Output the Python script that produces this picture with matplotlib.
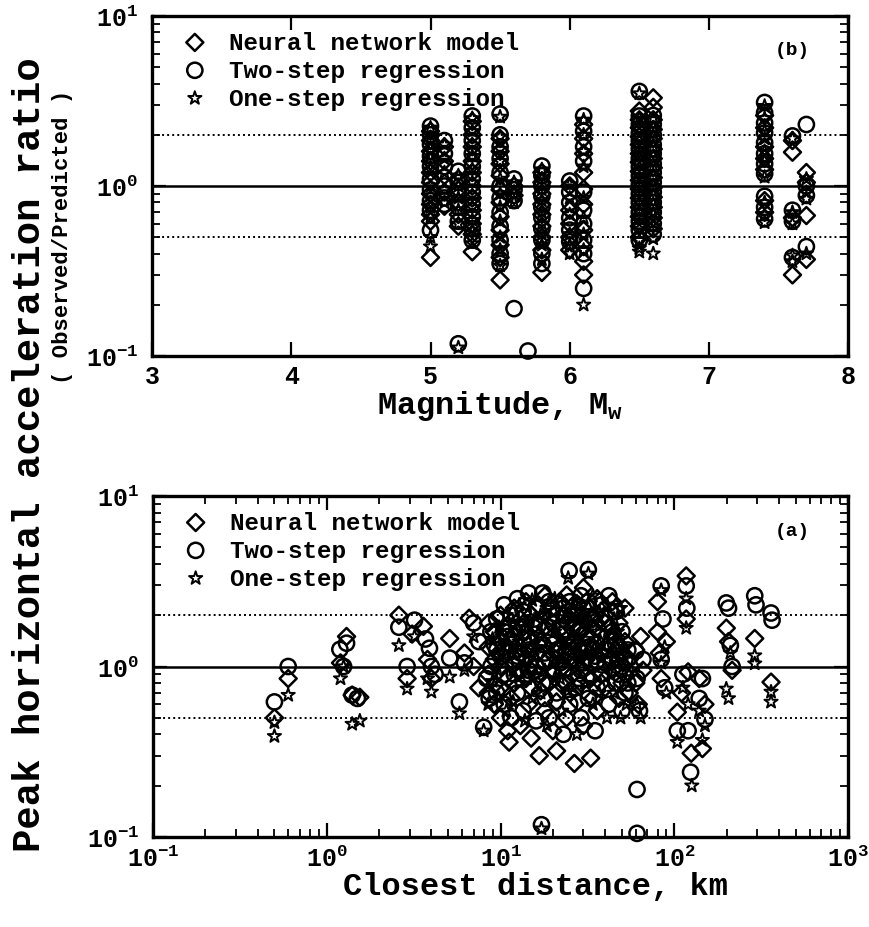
import numpy as np
import matplotlib
matplotlib.use("Agg")
import matplotlib.pyplot as plt
from matplotlib.ticker import LogLocator, NullFormatter, FixedLocator

# ============================
# FONT SETUP
# ============================
plt.rcParams["font.family"] = ["Liberation Mono", "DejaVu Sans"]
plt.rcParams["font.weight"] = "bold"
plt.rcParams["axes.labelweight"] = "bold"
plt.rcParams["mathtext.fontset"] = "custom"
plt.rcParams["mathtext.rm"] = "Liberation Mono:bold"
plt.rcParams["mathtext.it"] = "Liberation Mono:bold"
plt.rcParams["mathtext.bf"] = "Liberation Mono:bold"

# ============================
# DATA: ratio vs magnitude (panel b)
# ============================
nn_mw = [
    (5.0, [2.1, 1.85, 1.6, 1.4, 1.2, 1.05, 0.9, 0.78, 0.68, 0.62, 0.38]),
    (5.1, [1.7, 1.4, 1.15, 0.92, 0.76]),
    (5.2, [1.1, 0.95, 0.8, 0.68, 0.58]),
    (5.3, [2.4, 2.0, 1.7, 1.4, 1.2, 1.0, 0.85, 0.72, 0.6, 0.52, 0.41]),
    (5.5, [1.9, 1.6, 1.35, 1.15, 0.95, 0.8, 0.66, 0.55, 0.45, 0.38, 0.28]),
    (5.6, [1.0, 0.88]),
    (5.8, [1.2, 1.05, 0.9, 0.78, 0.68, 0.58, 0.5, 0.42, 0.31]),
    (6.0, [1.0, 0.72, 0.6, 0.5, 0.42]),
    (6.1, [2.3, 1.9, 1.55, 1.2, 0.96, 0.78, 0.55, 0.44, 0.36, 0.30]),
    (6.5, [2.76, 2.45, 2.2, 1.95, 1.75, 1.55, 1.38, 1.22, 1.08, 0.96, 0.85, 0.75, 0.66, 0.58, 0.5]),
    (6.6, [3.3, 2.9, 2.45, 2.15, 1.9, 1.65, 1.45, 1.28, 1.12, 0.98, 0.86, 0.75, 0.65, 0.56]),
    (7.4, [2.6, 2.2, 1.7, 1.45, 1.25, 0.82, 0.7]),
    (7.6, [1.85, 1.58, 0.65, 0.3]),
    (7.7, [1.2, 1.05, 0.67, 0.37]),
]
two_mw = [
    (5.0, [2.25, 2.0, 1.75, 1.5, 1.3, 1.1, 0.95, 0.82, 0.72, 0.55]),
    (5.1, [1.85, 1.55, 1.3, 1.0, 0.85, 0.78]),
    (5.2, [1.22, 1.05, 0.9, 0.75, 0.62, 0.118]),
    (5.3, [2.58, 2.2, 1.85, 1.55, 1.3, 1.1, 0.92, 0.78, 0.66, 0.56, 0.48]),
    (5.5, [2.65, 2.0, 1.7, 1.45, 1.2, 1.0, 0.85, 0.7, 0.58, 0.48, 0.4, 0.35]),
    (5.6, [1.1, 0.95, 0.82, 0.19]),
    (5.7, [0.107]),
    (5.8, [1.31, 1.15, 1.0, 0.87, 0.75, 0.65, 0.56, 0.48, 0.4, 0.35]),
    (6.0, [1.07, 0.92, 0.8, 0.65, 0.55, 0.47]),
    (6.1, [2.58, 2.1, 1.7, 1.4, 0.92, 0.72, 0.6, 0.48, 0.4, 0.25]),
    (6.5, [3.6, 2.58, 2.3, 2.05, 1.85, 1.65, 1.45, 1.3, 1.15, 1.02, 0.9, 0.8, 0.7, 0.62, 0.55, 0.48]),
    (6.6, [2.6, 2.3, 2.0, 1.75, 1.55, 1.35, 1.2, 1.05, 0.92, 0.8, 0.7, 0.6, 0.52]),
    (7.4, [3.1, 2.7, 2.35, 2.05, 1.8, 1.55, 1.35, 1.18, 0.87, 0.75, 0.64]),
    (7.6, [1.97, 0.72, 0.62, 0.38]),
    (7.7, [2.3, 1.0, 0.88, 0.44]),
]
one_mw = [
    (5.0, [2.2, 1.9, 1.65, 1.45, 1.25, 1.0, 0.88, 0.75, 0.66, 0.5, 0.44]),
    (5.1, [1.75, 1.45, 1.2, 0.95, 0.8]),
    (5.2, [1.15, 1.0, 0.85, 0.72, 0.6, 0.112]),
    (5.3, [2.5, 2.1, 1.75, 1.5, 1.25, 1.05, 0.88, 0.75, 0.63, 0.54, 0.46]),
    (5.5, [2.55, 1.95, 1.65, 1.4, 1.1, 0.9, 0.75, 0.62, 0.5, 0.42, 0.34]),
    (5.6, [1.05, 0.9, 0.8]),
    (5.8, [1.25, 1.1, 0.95, 0.82, 0.7, 0.6, 0.52, 0.45, 0.37]),
    (6.0, [1.02, 0.85, 0.68, 0.52, 0.45, 0.4]),
    (6.1, [2.45, 2.0, 1.6, 1.3, 0.85, 0.65, 0.52, 0.42, 0.2]),
    (6.5, [3.5, 2.5, 2.15, 1.9, 1.7, 1.5, 1.35, 1.2, 1.05, 0.93, 0.82, 0.72, 0.64, 0.56, 0.48, 0.43, 0.41]),
    (6.6, [2.5, 2.2, 1.95, 1.7, 1.5, 1.3, 1.15, 1.0, 0.88, 0.78, 0.68, 0.58, 0.49, 0.4]),
    (7.4, [2.95, 2.5, 2.1, 1.9, 1.6, 1.4, 1.13, 0.8, 0.68, 0.61]),
    (7.6, [1.9, 0.7, 0.6, 0.39, 0.36]),
    (7.7, [1.1, 0.92, 0.84, 0.4]),
]

# ============================
# DATA: ratio vs closest distance (panel a)
# ============================
nn_r = [
    (0.5, 0.5), (0.6, 0.85), (1.2, 1.05), (1.3, 1.5), (1.4, 0.68), (1.55, 0.66),
    (2.6, 2.0), (2.9, 0.85), (3.1, 1.55), (3.6, 1.72), (3.8, 1.1), (4.0, 0.85),
    (5.1, 1.46), (6.2, 1.2), (6.6, 1.92), (7.0, 1.0), (7.5, 0.75),
    (8.5, 1.8), (8.5, 1.3), (8.5, 0.9), (8.5, 0.7), (9.2, 1.6), (9.2, 1.1), (9.2, 0.78),
    (9.2, 0.6), (10, 2.0), (10, 1.4), (10, 1.0), (10, 0.75), (10, 0.5), (11, 1.75),
    (11, 1.2), (11, 0.85), (11, 0.42), (11.2, 0.36), (12, 2.2), (12, 1.5), (12, 1.05),
    (12, 0.8), (13, 1.9), (13, 1.3), (13, 0.95), (13, 0.45), (14, 2.4), (14, 1.6),
    (14, 1.1), (14, 0.85), (15, 2.0), (15, 1.4), (15, 0.75), (15, 0.38), (16.5, 2.3),
    (16.5, 1.2), (16.5, 0.9), (16.7, 0.3), (18, 2.6), (18, 1.7), (18, 1.05), (18, 0.55),
    (20, 2.2), (20, 1.5), (20, 0.95), (20, 0.42), (21, 0.32), (22, 2.4), (22, 1.3),
    (22, 0.8), (24, 2.63), (24, 1.8), (24, 1.15), (24, 0.5), (26.6, 0.27), (26, 2.1),
    (26, 1.4), (26, 0.9), (28, 2.3), (28, 1.6), (28, 1.0), (28, 0.62), (30, 2.9),
    (30, 1.9), (30, 1.2), (30, 0.45), (33, 0.29), (33, 2.2), (33, 1.45), (33, 0.85),
    (36, 2.5), (36, 1.7), (36, 1.05), (36, 0.55), (40, 2.0), (40, 1.3), (40, 0.75),
    (44, 2.4), (44, 1.5), (44, 0.95), (48, 1.8), (48, 1.1), (48, 0.65), (52, 1.4),
    (52, 0.9), (55, 1.1), (55, 0.7),
    (9.8, 1.2), (10.5, 1.7), (11.5, 0.65), (12.5, 1.25), (13.5, 1.7), (14.5, 0.6),
    (15.5, 1.75), (17, 1.4), (17, 0.72), (19, 1.9), (19, 0.8), (21, 1.2), (21, 0.62),
    (23, 2.0), (23, 1.0), (25, 1.5), (25, 0.7), (27, 1.8), (27, 1.2), (29, 2.0),
    (29, 0.8), (31, 1.5), (31, 1.1), (34, 1.9), (34, 1.25), (34, 0.65), (38, 1.9),
    (38, 1.2), (38, 0.8), (42, 1.7), (42, 1.1), (46, 2.2), (46, 1.25), (50, 1.2),
    (50, 0.8), (52, 2.2),
    (60, 1.25), (60, 0.8), (62, 0.6), (64, 1.5), (66, 0.95), (80, 2.4), (80, 1.6),
    (82, 1.2), (84, 0.85), (90, 1.4), (104, 0.54), (110, 0.7), (117, 3.4), (117, 1.9),
    (120, 0.93), (125, 0.31), (139, 0.85), (145, 0.33), (150, 0.6), (199, 1.68),
    (205, 1.4), (215, 0.95), (290, 1.46), (360, 0.81),
]
two_r = [
    (0.5, 0.62), (0.6, 1.0), (1.19, 1.26), (1.25, 1.0), (1.3, 1.37), (1.4, 0.68),
    (1.5, 0.65), (2.6, 1.7), (2.9, 1.0), (3.2, 1.87), (3.7, 1.45), (3.9, 1.28),
    (4.0, 1.0), (4.2, 0.9), (5.1, 1.12), (5.8, 0.62), (6.2, 1.05), (7.0, 1.8),
    (7.5, 1.4), (8.0, 0.44), (8.3, 0.85), (8.6, 0.65),
    (8.8, 1.6), (8.8, 1.0), (9.5, 1.9), (9.5, 1.25), (9.5, 0.7), (10.5, 2.3), (10.5, 1.6),
    (10.5, 0.9), (10.5, 0.6), (11.5, 2.0), (11.5, 1.35), (11.5, 0.5), (12.5, 2.5),
    (12.5, 1.7), (12.5, 1.15), (12.5, 0.7), (13.5, 2.1), (13.5, 1.45), (13.5, 0.55),
    (14.5, 2.7), (14.5, 1.25), (14.5, 0.95), (16, 2.2), (16, 1.55), (16, 1.0),
    (16, 0.48), (17.2, 0.118), (17.5, 2.7), (17.5, 1.35), (17.5, 0.8), (19, 2.4),
    (19, 1.7), (19, 1.1), (19, 0.5), (21, 2.0), (21, 1.25), (21, 0.7), (23, 2.2),
    (23, 1.55), (23, 0.95), (23, 0.4), (24.8, 3.65), (25, 2.4), (25, 1.3), (25, 0.6),
    (27, 2.0), (27, 1.1), (27, 0.75), (29, 2.6), (29, 1.7), (29, 0.95), (29, 0.5),
    (32, 3.7), (32, 2.4), (32, 1.3), (32, 0.65), (35, 2.0), (35, 1.15), (35, 0.42),
    (38, 2.3), (38, 1.5), (38, 0.9), (42, 2.6), (42, 1.25), (42, 0.6), (46, 2.1),
    (46, 1.35), (46, 0.8), (50, 1.6), (50, 1.0), (50, 0.55), (54, 1.25), (54, 0.8),
    (9.2, 1.35), (10, 1.15), (11, 1.5), (12, 0.9), (13, 1.2), (14, 1.8), (15, 1.1),
    (16.5, 1.75), (18, 1.2), (18, 0.65), (20, 1.8), (20, 1.35), (22, 1.7), (22, 1.05),
    (24, 1.2), (24, 0.8), (26, 1.7), (26, 1.25), (28, 1.3), (28, 0.85), (30, 2.2),
    (30, 1.05), (33, 1.9), (33, 1.05), (36, 1.35), (36, 0.75), (40, 1.8), (40, 1.05),
    (44, 1.6), (44, 1.1), (48, 1.3), (48, 0.9), (52, 1.1), (52, 0.7),
    (60, 1.23), (61, 0.85), (63, 0.55), (66, 1.1), (61, 0.19), (61, 0.105),
    (84, 2.97), (84, 1.1), (86, 1.9), (88, 0.75), (104, 0.42), (112, 0.9),
    (117, 2.97), (118, 2.2), (120, 0.42), (124, 0.24), (139, 0.65), (145, 0.85),
    (150, 0.49), (199, 2.36), (205, 2.2), (210, 1.33), (215, 1.0), (290, 2.6),
    (295, 2.3), (360, 2.06), (365, 1.87),
]
one_r = [
    (0.5, 0.47), (0.5, 0.39), (0.6, 0.68), (1.2, 0.85), (1.25, 1.0), (1.4, 0.46),
    (1.55, 0.48), (2.6, 1.33), (2.9, 0.74), (3.2, 1.5), (3.8, 0.85), (4.0, 0.71),
    (5.1, 0.87), (5.8, 0.53), (6.2, 0.95), (7.0, 1.5), (8.0, 0.42), (8.5, 0.6),
    (9.0, 1.45), (9.0, 0.82), (9.8, 1.7), (9.8, 1.15), (9.8, 0.65), (10.8, 2.0),
    (10.8, 1.3), (10.8, 0.55), (11.8, 1.8), (11.8, 0.95), (11.8, 0.62), (12.8, 2.3),
    (12.8, 1.4), (12.8, 0.8), (13.8, 1.7), (13.8, 1.0), (13.8, 0.48), (15.2, 2.45),
    (15.2, 1.15), (15.2, 0.65), (17.2, 0.112), (17, 2.0), (17, 1.5), (17, 0.7),
    (18.5, 2.2), (18.5, 1.25), (18.5, 0.45), (20.5, 2.5), (20.5, 1.6), (20.5, 0.85),
    (22.5, 2.0), (22.5, 1.05), (22.5, 0.55), (24.5, 3.3), (24.5, 2.2), (24.5, 1.4),
    (24.5, 0.72), (27.5, 2.4), (27.5, 1.2), (27.5, 0.4), (30.5, 2.1), (30.5, 1.45),
    (30.5, 0.8), (32, 3.5), (34, 2.6), (34, 1.2), (34, 0.6), (37, 2.1), (37, 1.35),
    (37, 0.7), (41, 2.3), (41, 1.1), (41, 0.5), (45, 1.9), (45, 1.2), (45, 0.7),
    (49, 2.2), (49, 1.45), (49, 0.5), (53, 1.0), (53, 0.6),
    (9.5, 1.0), (10.2, 1.5), (11.2, 1.1), (12.2, 1.6), (13.2, 1.2), (14.2, 0.85),
    (16, 1.3), (16, 0.9), (18, 1.9), (18, 0.95), (20, 1.1), (22, 1.45), (22, 0.85),
    (24, 1.1), (26, 1.9), (26, 0.75), (28, 1.45), (29, 1.1), (31, 1.8), (33, 0.95),
    (36, 1.6), (36, 0.9), (39, 1.2), (43, 1.5), (43, 0.9), (47, 1.6), (47, 1.05),
    (51, 1.3),
    (60, 1.0), (61, 0.6), (64, 0.5), (84, 2.8), (84, 1.05), (88, 1.3), (90, 0.7),
    (104, 0.36), (112, 0.75), (117, 2.5), (117, 1.68), (120, 0.6), (126, 0.2),
    (139, 0.55), (145, 0.37), (150, 0.45), (199, 0.74), (205, 0.65), (210, 1.2),
    (290, 1.16), (290, 1.04), (360, 0.71), (360, 0.62),
]

labels = ["Neural network model", "Two-step regression", "One-step regression"]


def flatten(columns):
    xs, ys = [], []
    for x, vals in columns:
        xs += [x] * len(vals)
        ys += vals
    return np.array(xs), np.array(ys)


# marker styles
styles = [
    dict(marker="D", s=75, linewidths=1.8),
    dict(marker="o", s=120, linewidths=1.8),
    dict(marker="*", s=100, linewidths=1.4),
]

fig = plt.figure(figsize=(8.69, 9.28), dpi=100)
ax_b = fig.add_axes([0.175, 0.6153, 0.801, 0.3664])
ax_a = fig.add_axes([0.176, 0.0970, 0.800, 0.3674])


def draw_panel(ax, series):
    for (x, y), st, lab in zip(series, styles, labels):
        ax.scatter(x, y, facecolors="none", edgecolors="black", label=lab,
                   clip_on=False, zorder=3, **st)
    ax.axhline(1.0, color="black", lw=1.8, zorder=2)
    ax.axhline(2.0, color="black", lw=1.4, ls=(0, (1, 1.6)), zorder=2)
    ax.axhline(0.5, color="black", lw=1.4, ls=(0, (1, 1.6)), zorder=2)
    ax.set_yscale("log")
    ax.set_ylim(0.1, 10)
    ax.yaxis.set_major_locator(LogLocator(base=10, numticks=5))
    ax.yaxis.set_minor_locator(LogLocator(base=10, subs=np.arange(2, 10), numticks=10))
    ax.yaxis.set_minor_formatter(NullFormatter())
    for sp in ax.spines.values():
        sp.set_linewidth(2.4)
    ax.tick_params(which="both", direction="in", top=True, right=True,
                   labelsize=18, pad=10)
    ax.tick_params(which="major", length=10, width=1.6)
    ax.tick_params(which="minor", length=6, width=1.3)
    leg = ax.legend(loc="upper left", bbox_to_anchor=(0.03, 0.985), frameon=False,
                    handlelength=1.0, handletextpad=0.9, labelspacing=0.2,
                    borderaxespad=0, prop=dict(family="Liberation Mono", weight="bold", size=17.5))
    for h in leg.legend_handles:
        h.set_clip_on(False)


draw_panel(ax_b, [flatten(nn_mw), flatten(two_mw), flatten(one_mw)])
ax_b.set_xlim(3, 8)
ax_b.xaxis.set_major_locator(FixedLocator([3, 4, 5, 6, 7, 8]))
ax_b.tick_params(axis="x", pad=6)
ax_b.text(0.92, 0.9, "(b)", transform=ax_b.transAxes, ha="center", va="center",
          fontsize=14, fontweight="bold")
ax_b.set_xlabel("Magnitude, M$_\\mathregular{w}$", fontsize=23, labelpad=0)

draw_panel(ax_a, [np.array(nn_r).T, np.array(two_r).T, np.array(one_r).T])
ax_a.set_xscale("log")
ax_a.set_xlim(0.1, 1000)
ax_a.xaxis.set_major_locator(LogLocator(base=10, numticks=6))
ax_a.xaxis.set_minor_locator(LogLocator(base=10, subs=np.arange(2, 10), numticks=12))
ax_a.xaxis.set_minor_formatter(NullFormatter())
ax_a.tick_params(axis="x", pad=6)
ax_a.text(0.92, 0.9, "(a)", transform=ax_a.transAxes, ha="center", va="center",
          fontsize=14, fontweight="bold")
ax_a.set_xlabel("Closest distance, km", fontsize=23)
ax_a.xaxis.set_label_coords(0.55, -0.1)

fig.text(0.035, 0.51, "Peak horizontal acceleration ratio", rotation=90,
         ha="center", va="center", fontsize=28, fontweight="bold")
fig.text(0.072, 0.745, "( Observed/Predicted )", rotation=90,
         ha="center", va="center", fontsize=16, fontweight="bold")

fig.savefig("out.png", dpi=100)
